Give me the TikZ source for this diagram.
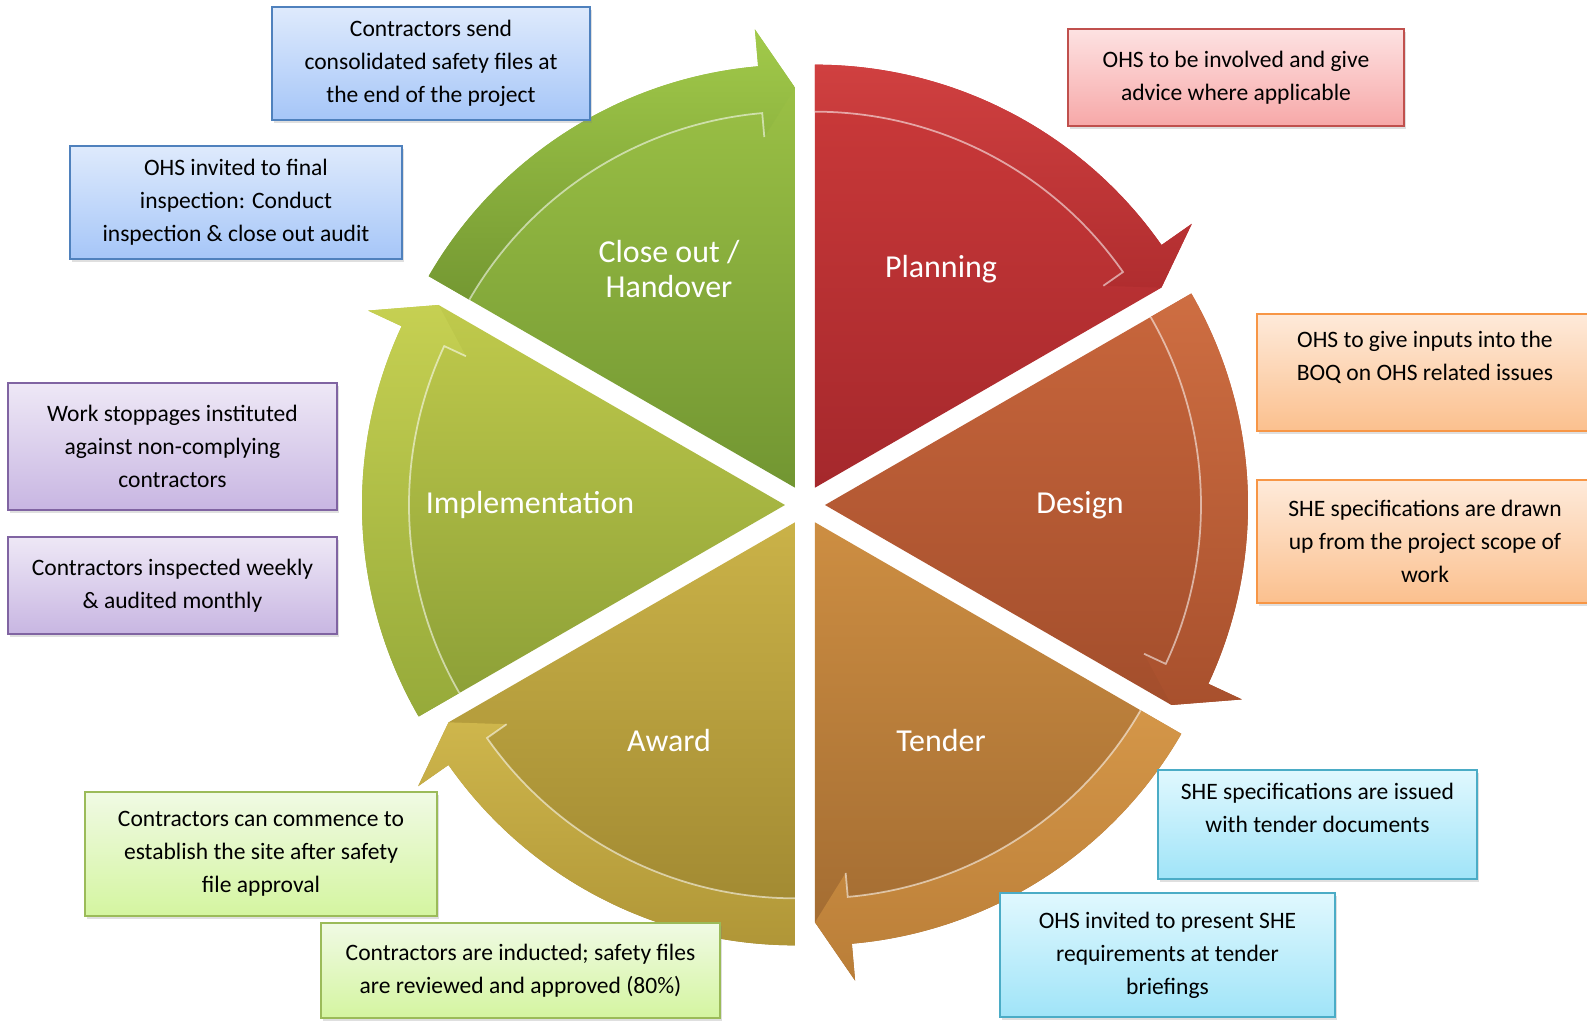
\documentclass[tikz,border=0pt]{standalone}
\usepackage{fontspec}
\setmainfont{Carlito}
\usetikzlibrary{shadows}

% sector colours
\definecolor{planningtop}{RGB}{204, 58, 58}
\definecolor{planningbot}{RGB}{165, 40, 44}
\definecolor{planningbandtop}{RGB}{208, 64, 64}
\definecolor{planningbandbot}{RGB}{176, 45, 47}
\definecolor{designtop}{RGB}{200, 102, 60}
\definecolor{designbot}{RGB}{163, 78, 44}
\definecolor{designbandtop}{RGB}{206, 110, 66}
\definecolor{designbandbot}{RGB}{168, 80, 45}
\definecolor{tendertop}{RGB}{205, 142, 66}
\definecolor{tenderbot}{RGB}{158, 104, 48}
\definecolor{tenderbandtop}{RGB}{212, 150, 72}
\definecolor{tenderbandbot}{RGB}{186, 126, 56}
\definecolor{awardtop}{RGB}{202, 178, 72}
\definecolor{awardbot}{RGB}{158, 134, 48}
\definecolor{awardbandtop}{RGB}{206, 182, 76}
\definecolor{awardbandbot}{RGB}{176, 150, 55}
\definecolor{impltop}{RGB}{192, 202, 76}
\definecolor{implbot}{RGB}{138, 158, 54}
\definecolor{implbandtop}{RGB}{198, 208, 82}
\definecolor{implbandbot}{RGB}{150, 170, 58}
\definecolor{closetop}{RGB}{160, 198, 72}
\definecolor{closebot}{RGB}{114, 150, 50}
\definecolor{closebandtop}{RGB}{162, 202, 74}
\definecolor{closebandbot}{RGB}{116, 152, 50}

% note colours
\definecolor{bluetop}{RGB}{222, 234, 252}
\definecolor{bluebot}{RGB}{166, 198, 248}
\definecolor{blueborder}{RGB}{79, 129, 189}
\definecolor{purpletop}{RGB}{238, 232, 246}
\definecolor{purplebot}{RGB}{200, 182, 226}
\definecolor{purpleborder}{RGB}{128, 100, 162}
\definecolor{greentop}{RGB}{240, 250, 228}
\definecolor{greenbot}{RGB}{212, 245, 160}
\definecolor{greenborder}{RGB}{155, 187, 89}
\definecolor{redtop}{RGB}{253, 226, 226}
\definecolor{redbot}{RGB}{247, 168, 168}
\definecolor{redborder}{RGB}{192, 80, 77}
\definecolor{orangetop}{RGB}{254, 234, 218}
\definecolor{orangebot}{RGB}{251, 192, 142}
\definecolor{orangeborder}{RGB}{247, 150, 70}
\definecolor{cyantop}{RGB}{224, 248, 254}
\definecolor{cyanbot}{RGB}{160, 228, 248}
\definecolor{cyanborder}{RGB}{75, 172, 198}

% one wedge of the cycle with its rim arrow; #1 = middle angle, #2 = colour prefix
\newcommand{\cyclesegment}[2]{%
    \begin{scope}[shift={(#1:20)}]
        \path[top color=#2top, bottom color=#2bot]
            (0,0) -- (#1+30:423) arc[start angle=#1+30, end angle=#1-25, radius=423]
            -- (#1-25:460) -- (#1-30:400) -- cycle;
        \path[top color=#2bandtop, bottom color=#2bandbot]
            (#1+30:376) -- (#1+30:423) arc[start angle=#1+30, end angle=#1-25, radius=423]
            -- (#1-25:460) -- (#1-30:400) -- (#1-25:352) -- (#1-25:376)
            arc[start angle=#1-25, end angle=#1+30, radius=376] -- cycle;
        \draw[white, opacity=0.55, line width=1pt]
            (#1+30:376) arc[start angle=#1+30, end angle=#1-25, radius=376] -- (#1-25:352);
    \end{scope}}

\begin{document}
\begin{tikzpicture}[
        x=0.02cm, y=0.02cm,
        phase/.style={text=white, align=center, font=\fontsize{18.2}{20}\selectfont},
        note/.style={rectangle, line width=0.9pt, align=center, inner sep=0pt,
                     font=\fontsize{13.4}{18.8}\selectfont,
                     drop shadow={opacity=0.25, shadow xshift=1.2pt, shadow yshift=-1.8pt}},
        bluenote/.style={note, draw=blueborder, top color=bluetop, bottom color=bluebot},
        purplenote/.style={note, draw=purpleborder, top color=purpletop, bottom color=purplebot},
        greennote/.style={note, draw=greenborder, top color=greentop, bottom color=greenbot},
        rednote/.style={note, draw=redborder, top color=redtop, bottom color=redbot},
        orangenote/.style={note, draw=orangeborder, top color=orangetop, bottom color=orangebot},
        cyannote/.style={note, draw=cyanborder, top color=cyantop, bottom color=cyanbot}
    ]
        \fill[white] (-805,-526) rectangle (782,505);
        \useasboundingbox (-805,-526) rectangle (782,505);

        % Cycle wedges
        \cyclesegment{60}{planning}
        \cyclesegment{0}{design}
        \cyclesegment{-60}{tender}
        \cyclesegment{-120}{award}
        \cyclesegment{180}{impl}
        \cyclesegment{120}{close}

        % Phase names
        \node[phase] (planning) at (60:272) {Planning};
        \node[phase] (design) at (0:275) {Design};
        \node[phase] (tender) at (-60:272) {Tender};
        \node[phase] (award) at (-120:272) {Award};
        \node[phase] (implementation) at (180:275) {Implementation};
        \node[phase] (closeout) at (120:272) {Close out /\\ Handover};

        % Planning notes
        \node[rednote, minimum width=6.72cm, minimum height=1.94cm] (advice) at (431,427.5)
            {OHS to be involved and give\\advice where applicable};

        % Design notes
        \node[orangenote, minimum width=6.72cm, minimum height=2.34cm] (boqinputs) at (620,132.5)
            {OHS to give inputs into the\\BOQ on OHS related issues\\\mbox{}};
        \node[orangenote, minimum width=6.72cm, minimum height=2.46cm] (shespecs) at (620,-36.5)
            {SHE specifications are drawn\\up from the project scope of\\work};

        % Tender notes
        \node[cyannote, minimum width=6.38cm, minimum height=2.18cm] (tenderdocs) at (512.5,-319.5)
            {SHE specifications are issued\\with tender documents\\\mbox{}};
        \node[cyannote, minimum width=6.70cm, minimum height=2.48cm] (briefings) at (362.5,-450)
            {OHS invited to present SHE\\requirements at tender\\briefings};

        % Award notes
        \node[greennote, minimum width=7.04cm, minimum height=2.48cm] (sitestart) at (-544,-349)
            {Contractors can commence to\\establish the site after safety\\file approval};
        \node[greennote, minimum width=7.98cm, minimum height=1.90cm] (induction) at (-284.5,-465.5)
            {Contractors are inducted; safety files\\are reviewed and approved (80\%)};

        % Implementation notes
        \node[purplenote, minimum width=6.58cm, minimum height=2.54cm] (stoppages) at (-632.5,58.5)
            {Work stoppages instituted\\against non-complying\\contractors};
        \node[purplenote, minimum width=6.58cm, minimum height=1.94cm] (weekly) at (-632.5,-80.5)
            {Contractors inspected weekly\\\& audited monthly};

        % Close out notes
        \node[bluenote, minimum width=6.64cm, minimum height=2.26cm] (finalinspect) at (-569,302.5)
            {OHS invited to final\\inspection: Conduct\\inspection \& close out audit};
        \node[bluenote, minimum width=6.36cm, minimum height=2.26cm] (closefiles) at (-374,441.5)
            {Contractors send\\consolidated safety files at\\the end of the project};

    \end{tikzpicture}
\end{document}
